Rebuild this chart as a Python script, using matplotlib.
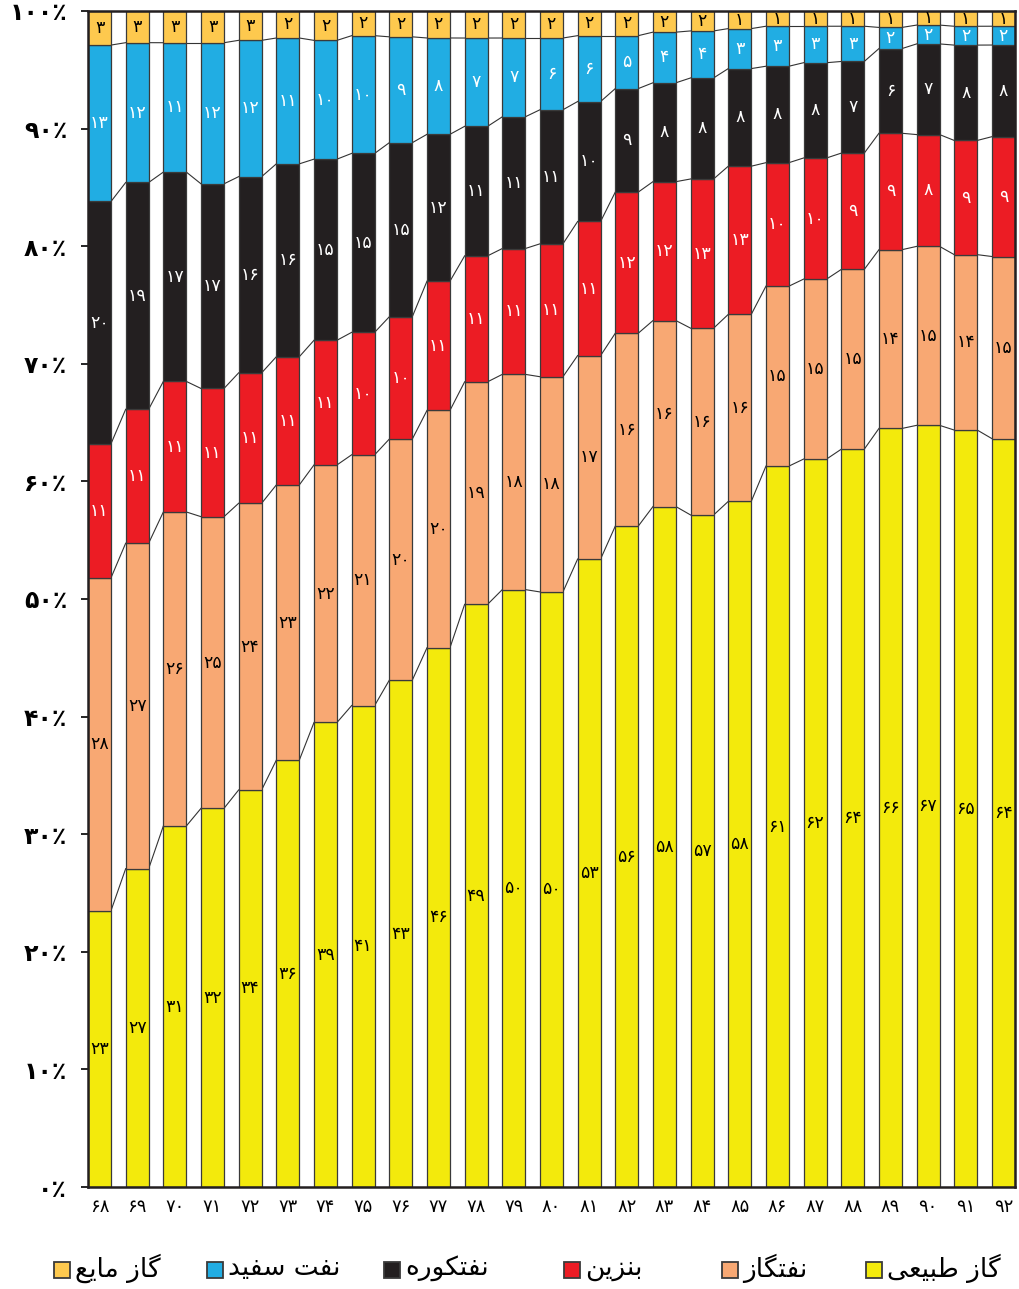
import matplotlib
matplotlib.use('Agg')
import matplotlib.pyplot as plt
from matplotlib.patches import Rectangle
import numpy as np

# years (Persian calendar, 13xx)
years = [68, 69, 70, 71, 72, 73, 74, 75, 76, 77, 78, 79, 80,
         81, 82, 83, 84, 85, 86, 87, 88, 89, 90, 91, 92]

# numbers printed on the bars (rounded percent)
gas      = [23, 27, 31, 32, 34, 36, 39, 41, 43, 46, 49, 50, 50, 53, 56, 58, 57, 58, 61, 62, 64, 66, 67, 65, 64]
gasoil   = [28, 27, 26, 25, 24, 23, 22, 21, 20, 20, 19, 18, 18, 17, 16, 16, 16, 16, 15, 15, 15, 14, 15, 14, 15]
benzin   = [11, 11, 11, 11, 11, 11, 11, 10, 10, 11, 11, 11, 11, 11, 12, 12, 13, 13, 10, 10, 9, 9, 8, 9, 9]
fueloil  = [20, 19, 17, 17, 16, 16, 15, 15, 15, 12, 11, 11, 11, 10, 9, 8, 8, 8, 8, 8, 7, 6, 7, 8, 8]
kerosene = [13, 12, 11, 12, 12, 11, 10, 10, 9, 8, 7, 7, 6, 6, 5, 4, 4, 3, 3, 3, 3, 2, 2, 2, 2]
lpg      = [3, 3, 3, 3, 3, 2, 2, 2, 2, 2, 2, 2, 2, 2, 2, 2, 2, 1, 1, 1, 1, 1, 1, 1, 1]

# segment heights as drawn in the chart (percent)
gas_h      = [23.5, 27.1, 30.7, 32.2, 33.8, 36.3, 39.5, 40.9, 43.1, 45.9, 49.5, 50.8, 50.6,
              53.4, 56.2, 57.8, 57.2, 58.3, 61.3, 61.9, 62.8, 64.5, 64.7, 64.3, 63.7]
gasoil_h   = [28.3, 27.7, 26.7, 24.8, 24.4, 23.4, 21.9, 21.3, 20.5, 20.2, 18.9, 18.3, 18.3,
              17.3, 16.4, 15.8, 15.9, 15.9, 15.3, 15.3, 15.3, 15.2, 15.2, 14.9, 15.5]
benzin_h   = [11.4, 11.4, 11.1, 10.9, 11.1, 10.9, 10.6, 10.4, 10.4, 11.0, 10.7, 10.7, 11.3,
              11.4, 12.0, 11.8, 12.7, 12.6, 10.5, 10.3, 9.9, 9.9, 9.5, 9.7, 10.2]
fueloil_h  = [20.6, 19.3, 17.8, 17.4, 16.7, 16.4, 15.4, 15.2, 14.8, 12.5, 11.0, 11.2, 11.4,
              10.2, 8.8, 8.4, 8.6, 8.3, 8.2, 8.1, 7.8, 7.2, 7.7, 8.1, 7.8]
kerosene_h = [13.3, 11.9, 11.0, 12.0, 11.6, 10.7, 10.1, 10.0, 9.0, 8.2, 7.5, 6.7, 6.1,
              5.6, 4.5, 4.3, 4.0, 3.4, 3.4, 3.1, 3.0, 1.8, 1.6, 1.6, 1.6]
lpg_h      = [2.9, 2.7, 2.7, 2.7, 2.5, 2.3, 2.5, 2.1, 2.2, 2.3, 2.3, 2.3, 2.3,
              2.1, 2.1, 1.8, 1.7, 1.5, 1.3, 1.3, 1.3, 1.4, 1.2, 1.3, 1.3]

names = ['گاز طبیعی', 'نفتگاز', 'بنزین', 'نفتکوره', 'نفت سفید', 'گاز مایع']
colors = ['#f3ea0c', '#f8a873', '#ec1c24', '#231f20', '#21ade3', '#fec94e']
label_colors = ['black', 'black', 'white', 'white', 'white', 'black']

FA_DIGITS = str.maketrans('0123456789', '۰۱۲۳۴۵۶۷۸۹')

# simple arabic-script shaping (matplotlib has no bidi / joining support)
FORMS = {
    'ا': ('\uFE8D', '\uFE8E', None, None),
    'ب': ('\uFE8F', '\uFE90', '\uFE91', '\uFE92'),
    'ت': ('\uFE95', '\uFE96', '\uFE97', '\uFE98'),
    'د': ('\uFEA9', '\uFEAA', None, None),
    'ر': ('\uFEAD', '\uFEAE', None, None),
    'ز': ('\uFEAF', '\uFEB0', None, None),
    'س': ('\uFEB1', '\uFEB2', '\uFEB3', '\uFEB4'),
    'ط': ('\uFEC1', '\uFEC2', '\uFEC3', '\uFEC4'),
    'ع': ('\uFEC9', '\uFECA', '\uFECB', '\uFECC'),
    'ف': ('\uFED1', '\uFED2', '\uFED3', '\uFED4'),
    'م': ('\uFEE1', '\uFEE2', '\uFEE3', '\uFEE4'),
    'ن': ('\uFEE5', '\uFEE6', '\uFEE7', '\uFEE8'),
    'ه': ('\uFEE9', '\uFEEA', '\uFEEB', '\uFEEC'),
    'و': ('\uFEED', '\uFEEE', None, None),
    'ک': ('\uFB8E', '\uFB8F', '\uFB90', '\uFB91'),
    'گ': ('\uFB92', '\uFB93', '\uFB94', '\uFB95'),
    'ی': ('\uFBFC', '\uFBFD', '\uFBFE', '\uFBFF'),
}


def shape(txt):
    out = []
    for i, ch in enumerate(txt):
        if ch not in FORMS:
            out.append(ch)
            continue
        prev = txt[i - 1] if i > 0 else ''
        nxt = txt[i + 1] if i < len(txt) - 1 else ''
        join_prev = prev in FORMS and FORMS[prev][2] is not None
        join_next = FORMS[ch][2] is not None and nxt in FORMS
        iso, fin, ini, med = FORMS[ch]
        if join_prev and join_next:
            out.append(med)
        elif join_prev:
            out.append(fin)
        elif join_next:
            out.append(ini)
        else:
            out.append(iso)
    return ''.join(out)[::-1]


plt.rcParams['font.family'] = ['DejaVu Sans']

series = np.array([gas, gasoil, benzin, fueloil, kerosene, lpg])
heights = np.array([gas_h, gasoil_h, benzin_h, fueloil_h, kerosene_h, lpg_h], dtype=float)
shares = heights / heights.sum(axis=0) * 100

W, H = 1020, 1289
fig = plt.figure(figsize=(W / 100, H / 100), dpi=100)
ax = fig.add_axes([0.0863, 0.0791, 0.9087, 0.9124])

x = np.arange(len(years))
w = 0.61
bottom = np.zeros(len(years))
tops = []
for k in range(len(series)):
    ax.bar(x, shares[k], w, bottom=bottom, color=colors[k],
           edgecolor='#3a3a3a', linewidth=0.9, zorder=2)
    for i in range(len(x)):
        ax.text(x[i], bottom[i] + shares[k][i] / 2,
                str(int(series[k][i])).translate(FA_DIGITS),
                ha='center', va='center', fontsize=12.5,
                color=label_colors[k], zorder=3)
    bottom = bottom + shares[k]
    tops.append(bottom.copy())

# connector lines between the bars
for top in tops[:-1]:
    for i in range(len(x) - 1):
        ax.plot([x[i] + w / 2, x[i + 1] - w / 2], [top[i], top[i + 1]],
                color='#333333', linewidth=0.8, zorder=1)

ax.set_xlim(-w / 2, len(x) - 1 + w / 2)
ax.set_ylim(0, 100)
ax.set_xticks(x)
ax.set_xticklabels([str(y).translate(FA_DIGITS) for y in years], fontsize=13)
ax.tick_params(axis='x', length=0, pad=8)
ax.set_yticks(np.arange(0, 101, 10))
ax.set_yticklabels([(str(v) + '٪').translate(FA_DIGITS) for v in range(0, 101, 10)],
                   fontsize=17, fontweight='bold')
ax.tick_params(axis='y', length=5, width=1.2, pad=10)
for s in ax.spines.values():
    s.set_linewidth(1.8)
    s.set_color('#231f20')

# legend laid out right-to-left like the original
legend_px = [874, 730, 572, 392, 215, 62]   # marker centres, same order as names
sq = 16
ly = 1270
for k in range(len(names)):
    cx = legend_px[k]
    fig.patches.append(Rectangle(((cx - sq / 2) / W, 1 - (ly + sq / 2) / H), sq / W, sq / H,
                                 transform=fig.transFigure, facecolor=colors[k],
                                 edgecolor='#3a3a3a', linewidth=1.3))
    fig.text((cx + sq / 2 + 5) / W, 1 - (ly - 2) / H, shape(names[k]),
             ha='left', va='center', fontsize=19)

fig.savefig('out.png', dpi=100)
